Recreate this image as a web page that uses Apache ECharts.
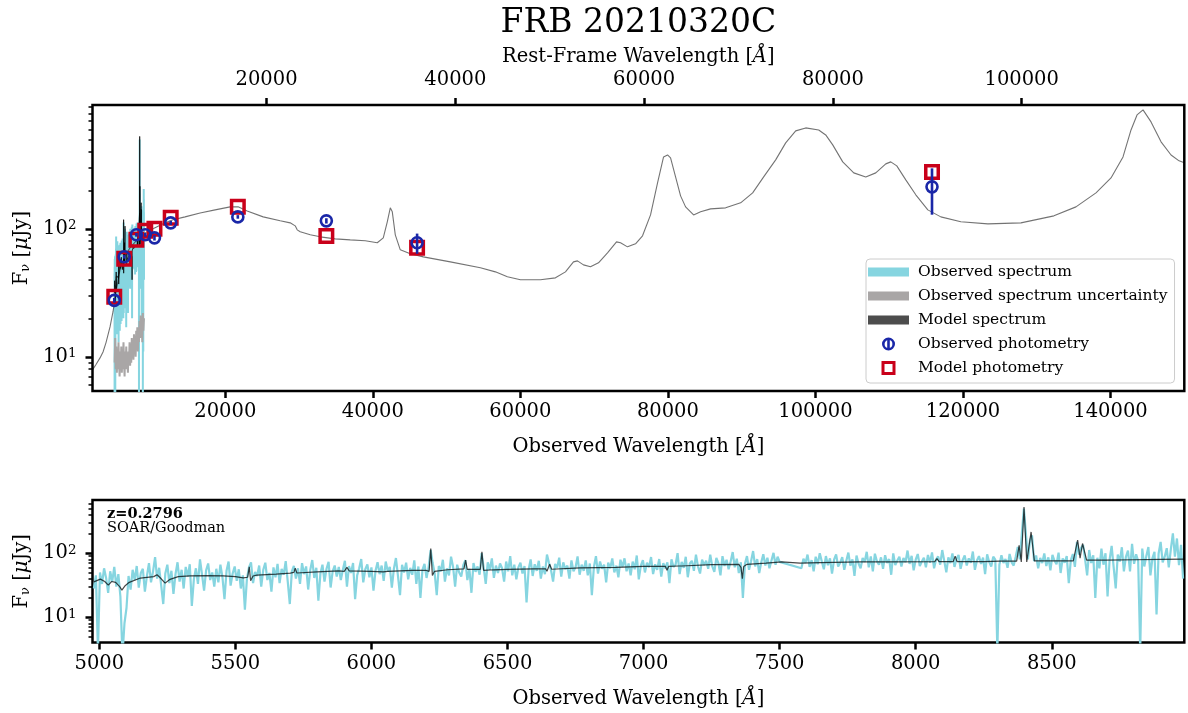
<!DOCTYPE html>
<html>
<head>
<meta charset="utf-8">
<title>FRB 20210320C</title>
<script src="https://cdn.jsdelivr.net/npm/echarts@6/dist/echarts.min.js"></script>
<style>
  html, body { margin: 0; padding: 0; background: #fff; }
  #sedChart { width: 1188px; height: 713px; }
</style>
</head>
<body>
<div id="sedChart"></div>
<script>
var redshift = 0.2796;
var serif = '"DejaVu Serif", serif';

var cyan = '#86d5e0';
var uncGray = '#a9a6a6';
var modelGray = '#4d4d4d';
var photBlue = '#1a27a8';
var photRed = '#c9001a';

// observed-frame wavelength limits of the two panels
var sedRange = [2000, 150000];
var specRange = [4975, 8987];

var sedTicks = [20000, 40000, 60000, 80000, 100000, 120000, 140000];
var restTicks = [20000, 40000, 60000, 80000, 100000];
var specTicks = [5000, 5500, 6000, 6500, 7000, 7500, 8000, 8500];
var decadeTicks = [10, 100];
var sedMinorTicks = [6, 7, 8, 9, 20, 30, 40, 50, 60, 70, 80, 90, 200, 300, 400, 500, 600, 700, 800, 900];
var specMinorTicks = [5, 6, 7, 8, 9, 20, 30, 40, 50, 60, 70, 80, 90, 200, 300, 400, 500, 600];

// best-fit model SED, [observed wavelength, F_nu in uJy]
var modelSed = [
  [2000, 7.9], [2475, 8.7], [3018, 9.8], [3425, 10.9], [3832, 12.9], [4375, 17.1],
  [4782, 22.5], [5189, 32.2], [5732, 47.9], [6410, 61.5], [7088, 71.1], [8038, 82],
  [9124, 93], [10481, 101.8], [11838, 111.4], [12923, 117.6], [14551, 124], [16587, 133],
  [18622, 140.7], [20658, 148.5], [21743, 148.5], [22965, 138], [25136, 124], [27442, 115.5],
  [28799, 111.4], [29477, 105.5], [29749, 98.2], [30156, 94.8], [31513, 89.8], [32870, 86.6],
  [34905, 83.5], [36940, 82], [38975, 80.6], [40603, 77.8], [41417, 85], [41960, 113.5],
  [42367, 146], [42638, 135.8], [43045, 89.8], [43724, 68.5], [45081, 63.8], [46845, 60.4],
  [50508, 55.2], [54579, 49.6], [56614, 46.1], [58242, 42.2], [60006, 40], [62720, 40],
  [64755, 41.4], [66112, 46.1], [67198, 55.2], [67740, 56.2], [68555, 52.3], [69505, 50.5],
  [70590, 54.2], [71811, 64.9], [73033, 79.1], [73575, 77.8], [74525, 72.3], [75611, 76.4],
  [76561, 88.2], [77646, 128.5], [78596, 228.7], [79410, 365], [79953, 378], [80360, 359],
  [81039, 254.6], [81717, 181], [82396, 148.5], [83481, 128.5], [84431, 135.8], [85788, 143.3],
  [87823, 145.9], [89859, 159.7], [91487, 191], [92980, 254.6], [94608, 346], [95965, 470],
  [97322, 583], [98679, 615], [100443, 593], [101392, 542], [102342, 453], [103699, 333.7],
  [105192, 273.8], [106820, 254.6], [108177, 273.8], [109534, 322], [110212, 333.7], [111026, 310.6],
  [112247, 241.5], [113604, 184.5], [115233, 140.7], [116997, 124], [119710, 113.5], [123374, 109.4],
  [127852, 111.4], [132330, 126.3], [135315, 148.5], [138029, 191], [140064, 250], [141692, 365],
  [142778, 593], [143592, 777], [144406, 851], [145491, 685], [146848, 479], [148205, 378],
  [149291, 340], [150000, 328]
];

// model at the spectrum's resolution, with the emission lines
var modelHiRes = [
  [4980, 35.5], [5004, 39.3], [5020, 36], [5033, 31.6], [5045, 36], [5060, 35], [5075, 30],
  [5083, 26.4], [5095, 31], [5110, 35], [5151, 40.8], [5200, 43], [5212, 46], [5222, 42],
  [5242, 34], [5260, 39], [5290, 43], [5334, 44], [5400, 44.5], [5456, 44], [5500, 43],
  [5529, 41], [5545, 42], [5551, 61], [5556, 37], [5565, 44], [5579, 45.3], [5650, 47],
  [5702, 48.7], [5715, 50], [5720, 58], [5726, 49], [5800, 51], [5880, 53], [5900, 52],
  [5910, 60], [5918, 53], [6000, 52], [6043, 51], [6050, 48], [6060, 52], [6150, 54],
  [6200, 54], [6212, 52], [6218, 118], [6224, 45], [6232, 52], [6280, 55], [6340, 57],
  [6346, 78], [6352, 56], [6400, 56], [6406, 105], [6412, 54], [6450, 55], [6500, 56],
  [6600, 57], [6640, 57], [6645, 52], [6655, 67], [6662, 56], [6767, 59], [6900, 60],
  [7000, 62], [7080, 62.5], [7086, 54], [7092, 62], [7130, 63], [7134, 67], [7140, 63],
  [7250, 66], [7350, 67], [7358, 60], [7363, 40], [7368, 62], [7380, 67], [7450, 70],
  [7508, 73], [7575, 70], [7650, 71], [7796, 73], [7900, 73], [8070, 74], [8078, 82.5],
  [8086, 74], [8138, 74], [8145, 89.8], [8152, 74], [8250, 74], [8310, 75], [8371, 75],
  [8380, 133], [8388, 73], [8398, 528], [8408, 73], [8412, 74], [8424, 215], [8436, 75.8],
  [8500, 76], [8579, 75.8], [8595, 160], [8604, 83.6], [8613, 141.7], [8628, 77.8],
  [8700, 78], [8800, 79], [8900, 80], [8995, 80.6]
];

// SOAR/Goodman spectrum on a 7.5 A pixel grid, blue and red of the telluric gap
var specStep = 7.5;
var specBlueStart = 4980;
var specBlueFlux = [
  28, 45, 3, 50, 33, 58, 41, 24, 52, 36, 61, 30, 47, 21, 2.5, 8, 14, 44, 27, 55,
  38, 63, 29, 49, 57, 25, 44, 70, 35, 52, 87, 40, 59, 31, 16, 48, 66, 34, 53, 23,
  47, 72, 36, 55, 28, 61, 43, 67, 15, 39, 58, 33, 80, 46, 26, 54, 69, 38, 50, 30,
  57, 35, 66, 42, 19, 53, 74, 31, 48, 62, 37, 56, 28, 45, 13, 40, 60, 72, 34, 51,
  44, 64, 30, 55, 71, 38, 49, 25, 60, 42, 68, 34, 57, 46, 75, 36, 16, 52, 63, 40,
  58, 33, 70, 47, 62, 27, 54, 78, 41, 59, 18, 48, 66, 36, 57, 73, 29, 52, 64, 43,
  61, 38, 55, 76, 30, 63, 49, 70, 19, 45, 58, 81, 35, 56, 67, 42, 60, 26, 53, 72,
  47, 64, 37, 74, 52, 61, 29, 57, 84, 44, 22, 66, 50, 71, 39, 59, 46, 77, 33, 62,
  20, 55, 68, 41, 60, 112, 70, 48, 22, 63, 52, 79, 36, 58, 45, 88, 61, 30, 66, 50,
  43, 65, 78, 38, 57, 24, 70, 51, 62, 46, 100, 59, 33, 72, 55, 83, 41, 64, 49, 69,
  58, 36, 74, 52, 90, 45, 66, 39, 60, 71, 48, 63, 17, 55, 80, 44, 67, 53, 76, 40,
  62, 47, 95, 70, 54, 36, 68, 59, 85, 43, 72, 56, 64, 40, 77, 52, 60, 89, 46, 66,
  53, 77, 45, 69, 22, 61, 90, 48, 74, 57, 66, 35, 71, 58, 83, 50, 64, 42, 79, 61,
  83, 52, 69, 45, 74, 56, 92, 39, 64, 78, 50, 71, 60, 87, 47, 67, 55, 81, 43, 70,
  58, 72, 34, 80, 61, 66, 100, 47, 73, 59, 88, 42, 69, 76, 53, 95, 62, 48, 79, 65,
  76, 57, 95, 62, 51, 84, 70, 45, 90, 63, 79, 56, 74, 104, 60, 82, 49, 72, 20, 68,
  90, 55, 75, 108, 62, 81, 49, 72, 96, 64, 85, 58, 77, 101, 66, 88, 73
];
var specRedStart = 7580;
var specRedFlux = [
  58, 82, 70, 95, 61, 78, 52, 88, 67, 100, 74, 56, 90, 65, 83, 48, 79, 96, 62, 71,
  87, 55, 76, 102, 64, 80, 44, 92, 69, 58, 84, 73, 105, 60, 89, 52, 98, 75, 66, 86,
  57, 93, 70, 81, 46, 99, 65, 77, 88, 62, 84, 72, 110, 68, 91, 54, 79, 97, 63, 74,
  85, 60, 94, 71, 103, 58, 80, 89, 66, 112, 75, 50, 86, 70, 99, 61, 82, 94, 57, 78,
  92, 64, 83, 71, 106, 55, 77, 90, 68, 85, 47, 96, 73, 62, 88, 79, 3, 66, 93, 70,
  81, 59, 97, 72, 64, 88, 125, 80, 200, 500, 200, 80, 160, 190, 75, 92, 58, 84, 70, 99,
  63, 86, 54, 94, 76, 67, 102, 49, 83, 71, 90, 34, 78, 97, 61, 150, 95, 120, 135, 80,
  45, 112, 70, 93, 20, 85, 58, 118, 66, 100, 21, 79, 130, 60, 28, 95, 74, 124, 52, 88,
  110, 52, 140, 68, 96, 75, 3, 118, 62, 90, 125, 45, 84, 105, 11, 98, 150, 72, 88, 120,
  60, 115, 205, 88, 170, 65, 135, 40
];

// spectrum uncertainty
var uncWave = [5000, 5075, 5150, 5225, 5300, 5375, 5450, 5525, 5600, 5675, 5750, 5825, 5900, 5975,
  6050, 6125, 6200, 6275, 6350, 6425, 6500, 6575, 6650, 6725, 6800, 6875, 6950, 7025, 7100, 7175,
  7250, 7325, 7400, 7475, 7550, 7625, 7700, 7775, 7850, 7925, 8000, 8075, 8150, 8225, 8300, 8375,
  8450, 8525, 8600, 8675, 8750, 8825, 8900, 8975];
var uncFlux = [9, 14, 8, 12, 7.5, 11, 8, 13, 9, 7, 11, 8, 12, 7.5, 10, 8, 13, 9, 7, 11, 8.5, 12,
  8, 10, 7.5, 11, 9, 13, 8.5, 12, 9, 14, 10, 13, 9.5, 15, 11, 14, 10, 16, 12, 17, 11, 15, 13, 19,
  14, 21, 15, 18, 13, 22, 16, 20];

// photometry: g r i z Y J Ks W1 W2 W3
var photWave = [4950, 6300, 7950, 9150, 10400, 12600, 21700, 33700, 46000, 115800];
var photObs = [27.6, 60.5, 89.8, 89.8, 85, 111.4, 124, 115.5, 77.8, 213];
var photErr = [1.2, 2, 3, 3, 4, 4, 4, 5.5, 14, 84];
var photModel = [29.4, 58.3, 82, 96.5, 100, 121.9, 148.5, 88, 71, 278.6];

function spectrumPairs(start, step, flux) {
  return flux.map(function (f, i) { return [start + step * i, f]; });
}
var observedSpec = spectrumPairs(specBlueStart, specStep, specBlueFlux)
  .concat(spectrumPairs(specRedStart, specStep, specRedFlux));
var uncertaintySpec = uncWave.map(function (w, i) { return [w, uncFlux[i]]; });

function plainNumber(v) { return String(v); }
function powerLabel(v) { return '{b|10}{p|' + Math.round(Math.log10(v)) + '}'; }

var labelRich = {
  b: { fontFamily: serif, fontSize: 19.5, color: '#000' },
  p: { fontFamily: serif, fontSize: 13.5, color: '#000', verticalAlign: 'top' }
};
var nameStyle = {
  fontFamily: serif, fontSize: 19.5, color: '#000',
  rich: { i: { fontFamily: serif, fontSize: 19.5, fontStyle: 'italic', color: '#000' } }
};
var fluxName = '{r|F}{s|ν}{r| [}{i|μ}{r|Jy]}';
var fluxNameStyle = {
  fontFamily: serif, fontSize: 19.5, color: '#000',
  rich: {
    r: { fontFamily: serif, fontSize: 19.5, color: '#000' },
    s: { fontFamily: serif, fontSize: 13, color: '#000', verticalAlign: 'bottom' },
    i: { fontFamily: serif, fontSize: 19.5, fontStyle: 'italic', color: '#000' }
  }
};

function svgIcon(inner) {
  return 'image://data:image/svg+xml;charset=utf-8,' + encodeURIComponent(
    '<svg xmlns="http://www.w3.org/2000/svg" width="45" height="14" viewBox="0 0 45 14">' + inner + '</svg>');
}
function patchIcon(color) {
  return svgIcon('<rect x="0" y="2.5" width="41" height="9" fill="' + color + '"/>');
}

function wavelengthAxis(grid, range, ticks, pos, name, gap, margin) {
  return {
    gridIndex: grid, type: 'value', position: pos, min: range[0], max: range[1],
    axisLine: { show: false }, splitLine: { show: false },
    axisTick: { customValues: ticks, length: 7, lineStyle: { color: '#000', width: 2.5 } },
    axisLabel: { customValues: ticks, formatter: plainNumber, margin: margin,
      fontFamily: serif, fontSize: 19.5, color: '#000' },
    name: name, nameLocation: 'middle', nameGap: gap, nameTextStyle: nameStyle
  };
}
function fluxAxis(grid, range) {
  return {
    gridIndex: grid, type: 'log', logBase: 10, position: 'left', min: range[0], max: range[1],
    axisLine: { show: false }, splitLine: { show: false },
    axisTick: { customValues: decadeTicks, length: 7, lineStyle: { color: '#000', width: 2.5 } },
    axisLabel: { customValues: decadeTicks, formatter: powerLabel, margin: 16, rich: labelRich },
    name: fluxName, nameLocation: 'middle', nameGap: 54, nameTextStyle: fluxNameStyle
  };
}
function minorAxis(grid, range, ticks) {
  return {
    gridIndex: grid, type: 'log', logBase: 10, position: 'left', offset: 0, min: range[0], max: range[1],
    axisLine: { show: false }, splitLine: { show: false }, axisLabel: { show: false },
    axisTick: { customValues: ticks, length: 4, lineStyle: { color: '#000', width: 1.5 } }
  };
}

var sedFluxRange = [5.4, 929];
var specFluxRange = [4.0, 680];

var option = {
  animation: false,
  textStyle: { fontFamily: serif },
  title: [
    { text: 'FRB 20210320C', left: 638.4, textAlign: 'center', top: 7, padding: 0,
      textStyle: { fontFamily: serif, fontSize: 33, fontWeight: 'normal', color: '#000' } },
    { text: 'z=0.2796', left: 107, top: 507, padding: 0,
      textStyle: { fontFamily: serif, fontSize: 14.5, fontWeight: 'bold', color: '#000' } },
    { text: 'SOAR/Goodman', left: 107, top: 521, padding: 0,
      textStyle: { fontFamily: serif, fontSize: 14.5, fontWeight: 'normal', color: '#000' } }
  ],
  grid: [
    { left: 92.5, top: 105, width: 1091.8, height: 286, show: true,
      borderColor: '#000', borderWidth: 2.5, backgroundColor: 'transparent' },
    { left: 92.5, top: 500, width: 1091.8, height: 142.5, show: true,
      borderColor: '#000', borderWidth: 2.5, backgroundColor: 'transparent' }
  ],
  legend: {
    orient: 'vertical', left: 866, top: 259, padding: [4, 7, 6, 2],
    itemGap: 6, itemWidth: 45, itemHeight: 14, selectedMode: false,
    backgroundColor: 'rgba(255,255,255,0.8)', borderColor: '#cccccc', borderWidth: 1, borderRadius: 4,
    textStyle: { fontFamily: serif, fontSize: 15.5, color: '#000', lineHeight: 18 },
    data: [
      { name: 'Observed spectrum', icon: patchIcon(cyan) },
      { name: 'Observed spectrum uncertainty', icon: patchIcon(uncGray) },
      { name: 'Model spectrum', icon: patchIcon(modelGray) },
      { name: 'Observed photometry', icon: svgIcon(
        '<circle cx="20.5" cy="7" r="5.2" fill="none" stroke="' + photBlue + '" stroke-width="2.6"/>' +
        '<line x1="20.5" y1="1.5" x2="20.5" y2="12.5" stroke="' + photBlue + '" stroke-width="2.6"/>') },
      { name: 'Model photometry', icon: svgIcon(
        '<rect x="15" y="1.5" width="11" height="11" fill="none" stroke="' + photRed + '" stroke-width="3"/>') }
    ]
  },
  xAxis: [
    wavelengthAxis(0, sedRange, sedTicks, 'bottom', 'Observed Wavelength [{i|Å}]', 46, 11),
    wavelengthAxis(0, [sedRange[0] / (1 + redshift), sedRange[1] / (1 + redshift)], restTicks, 'top',
      'Rest-Frame Wavelength [{i|Å}]', 38, 15),
    wavelengthAxis(1, specRange, specTicks, 'bottom', 'Observed Wavelength [{i|Å}]', 46, 11)
  ],
  yAxis: [
    fluxAxis(0, sedFluxRange),
    minorAxis(0, sedFluxRange, sedMinorTicks),
    fluxAxis(1, specFluxRange),
    minorAxis(1, specFluxRange, specMinorTicks)
  ],
  series: [
    { name: 'Observed spectrum', type: 'line', xAxisIndex: 0, yAxisIndex: 0, data: observedSpec,
      showSymbol: false, silent: true, lineStyle: { color: cyan, width: 2 }, z: 2 },
    { name: 'Observed spectrum uncertainty', type: 'line', xAxisIndex: 0, yAxisIndex: 0, data: uncertaintySpec,
      showSymbol: false, silent: true, lineStyle: { color: uncGray, width: 2 }, z: 3 },
    { name: 'Model spectrum', type: 'line', xAxisIndex: 0, yAxisIndex: 0, data: modelSed,
      showSymbol: false, silent: true, lineStyle: { color: 'rgba(0,0,0,0.55)', width: 1.1 }, z: 3 },
    { name: 'Model spectrum', type: 'line', xAxisIndex: 0, yAxisIndex: 0, data: modelHiRes,
      showSymbol: false, silent: true, lineStyle: { color: 'rgba(0,0,0,0.72)', width: 1 }, z: 4 },
    { name: 'Model photometry', type: 'scatter', xAxisIndex: 0, yAxisIndex: 0,
      data: photWave.map(function (w, i) { return [w, photModel[i]]; }),
      symbol: 'rect', symbolSize: 12.5, silent: true, z: 5,
      itemStyle: { color: 'rgba(0,0,0,0)', borderColor: photRed, borderWidth: 3.5, opacity: 1 } },
    { name: 'Observed photometry', type: 'custom', xAxisIndex: 0, yAxisIndex: 0, silent: true, z: 6,
      data: photWave.map(function (w, i) { return [w, photObs[i] - photErr[i], photObs[i] + photErr[i]]; }),
      encode: { x: 0, y: [1, 2] },
      renderItem: function (params, api) {
        var lo = api.coord([api.value(0), api.value(1)]);
        var hi = api.coord([api.value(0), api.value(2)]);
        return { type: 'line', shape: { x1: lo[0], y1: lo[1], x2: hi[0], y2: hi[1] },
          style: { stroke: photBlue, lineWidth: 2.6 } };
      } },
    { name: 'Observed photometry', type: 'scatter', xAxisIndex: 0, yAxisIndex: 0,
      data: photWave.map(function (w, i) { return [w, photObs[i]]; }),
      symbol: 'circle', symbolSize: 11, silent: true, z: 7,
      itemStyle: { color: 'rgba(0,0,0,0)', borderColor: photBlue, borderWidth: 2.6, opacity: 1 } },
    { name: 'Observed spectrum', type: 'line', xAxisIndex: 2, yAxisIndex: 2, data: observedSpec,
      showSymbol: false, silent: true, lineStyle: { color: cyan, width: 2.2 }, z: 2 },
    { name: 'Model spectrum', type: 'line', xAxisIndex: 2, yAxisIndex: 2, data: modelHiRes,
      showSymbol: false, silent: true, lineStyle: { color: 'rgba(0,0,0,0.72)', width: 1.2 }, z: 4 }
  ]
};

var sedChart = echarts.init(document.getElementById('sedChart'));
sedChart.setOption(option);
</script>
</body>
</html>
